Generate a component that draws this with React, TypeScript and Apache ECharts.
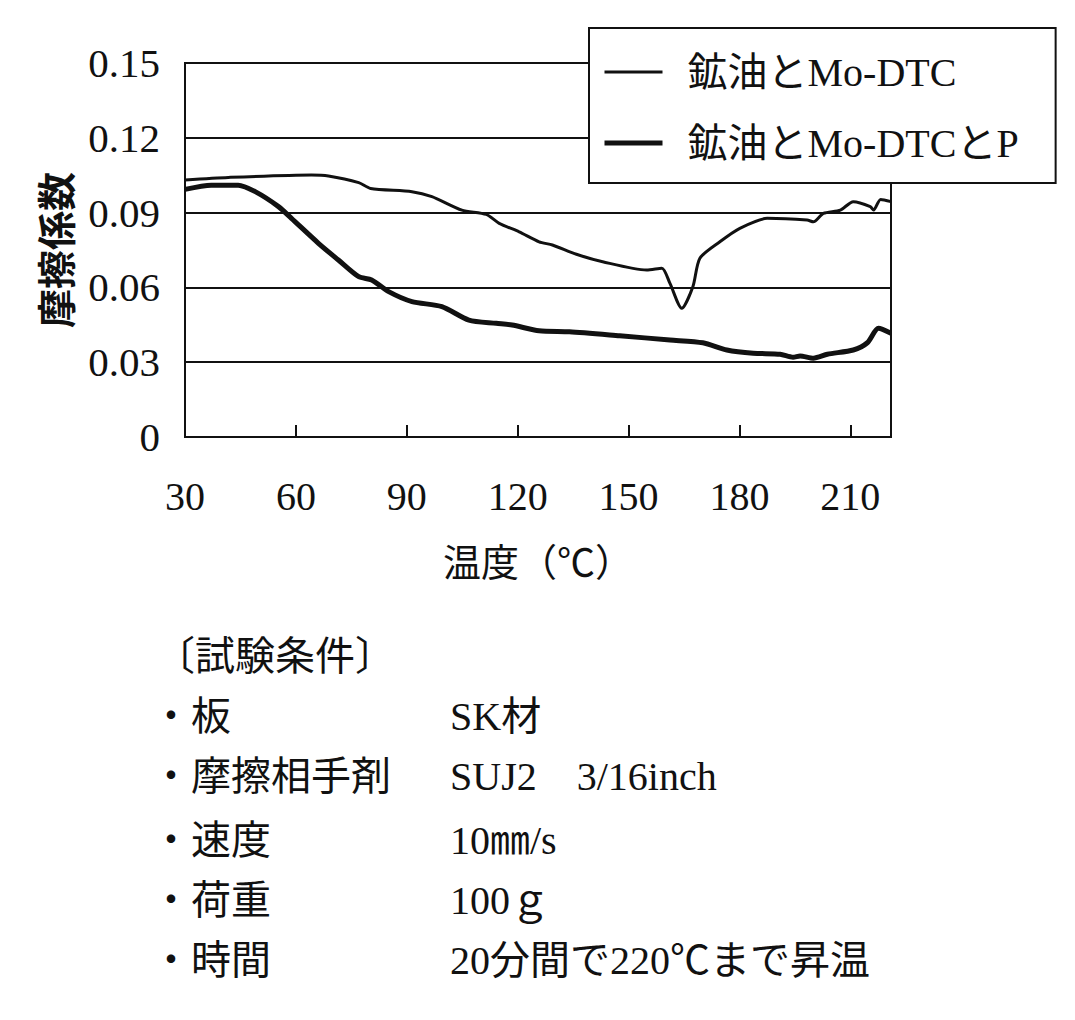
import React, { useEffect, useRef } from "react";
import * as echarts from "echarts";

const SERIF = "'Liberation Serif', 'Noto Sans CJK JP', serif";
const SANS = "'Noto Sans CJK JP', sans-serif";

const seriesNames = ["鉱油とMo-DTC", "鉱油とMo-DTCとP"];
const seriesWidths = [3, 5];

// 鉱油とMo-DTC (thin line)
const tempsA = [30, 41.7, 64.2, 68.8, 77, 80.2, 91.4, 96.8, 104.9, 111.5, 115, 120.4, 125.8, 129.4, 135.9, 143, 154.9, 159, 161.2, 164.4, 167.4, 169.3, 174.7, 180.1, 187.5, 198.3, 200, 202.7, 207.3, 210.8, 215.4, 216.3, 218.2, 221];
const cofA = [0.1031, 0.1041, 0.1051, 0.1047, 0.102, 0.0997, 0.0984, 0.0964, 0.091, 0.0893, 0.0857, 0.0823, 0.0783, 0.077, 0.0733, 0.0703, 0.067, 0.0677, 0.0616, 0.0516, 0.0603, 0.0717, 0.0783, 0.0837, 0.0877, 0.087, 0.0863, 0.0897, 0.091, 0.0944, 0.0924, 0.091, 0.0953, 0.0944];

// 鉱油とMo-DTCとP (thick line)
const tempsB = [30, 37.1, 44.4, 49, 55.3, 58.8, 66.1, 71.5, 77, 80.5, 85.1, 91.4, 99.5, 106.8, 114.2, 118.5, 125.8, 134, 147.6, 161.2, 170.1, 176.6, 183.7, 191, 194.5, 196.4, 200, 203.8, 210.8, 214.6, 217.6, 221];
const cofB = [0.0993, 0.101, 0.101, 0.0984, 0.0924, 0.0877, 0.0777, 0.071, 0.0643, 0.063, 0.0583, 0.0543, 0.0523, 0.0469, 0.0456, 0.0449, 0.0426, 0.0422, 0.0406, 0.0389, 0.0378, 0.0349, 0.0336, 0.0332, 0.032, 0.0325, 0.0316, 0.0332, 0.0349, 0.0378, 0.0436, 0.0416];

const xMin = 30;
const xMax = 221;
const xInterval = 30;
const yMin = 0;
const yMax = 0.15;
const yInterval = 0.03;

const xAxisTitle = "温度（℃）";
const yAxisTitle = "摩擦係数";

const conditionsTitle = "〔試験条件〕";
const conditionLabels = ["・板", "・摩擦相手剤", "・速度", "・荷重", "・時間"];
const conditionValues = ["SK材", "SUJ2　3/16inch", "10㎜/s", "100ｇ", "20分間で220℃まで昇温"];

export default function App() {
  const ref = useRef<HTMLDivElement>(null);

  useEffect(() => {
    if (!ref.current) return;
    const chart = echarts.init(ref.current, undefined, { renderer: "svg" });

    const pairs = (xs: number[], ys: number[]) => xs.map((x, i) => [x, ys[i]]);

    const rowYs = [718, 778, 842, 902, 962];
    const graphics: any[] = [
      {
        type: "text",
        left: 155,
        top: 658 - 22,
        style: { text: conditionsTitle, font: `40px ${SERIF}`, fill: "#111" },
      },
    ];
    conditionLabels.forEach((l, i) => {
      graphics.push({
        type: "text",
        left: 151,
        top: rowYs[i] - 22,
        style: { text: l, font: `40px ${SERIF}`, fill: "#111" },
      });
      graphics.push({
        type: "text",
        left: 450,
        top: rowYs[i] - 22,
        style: { text: conditionValues[i], font: `40px ${SERIF}`, fill: "#111" },
      });
    });

    chart.setOption({
      animation: false,
      backgroundColor: "#fff",
      grid: {
        left: 185,
        right: 1075 - 891,
        top: 63,
        bottom: 1020 - 437,
        show: true,
        borderColor: "#111",
        borderWidth: 2,
        backgroundColor: "transparent",
      },
      legend: {
        orient: "vertical",
        left: 589,
        top: 28,
        data: seriesNames.map((n, i) => ({
          name: n,
          lineStyle: { width: seriesWidths[i], color: "#111" },
        })),
        itemWidth: 58,
        itemHeight: 3,
        itemGap: 31,
        padding: [24, 37, 20, 13],
        backgroundColor: "#fff",
        borderColor: "#111",
        borderWidth: 2,
        borderRadius: 0,
        itemStyle: { opacity: 0 },
        textStyle: {
          fontFamily: SERIF,
          fontSize: 40,
          color: "#111",
          padding: [0, 0, 0, 20],
        },
      },
      xAxis: {
        type: "value",
        min: xMin,
        max: xMax,
        interval: xInterval,
        name: xAxisTitle,
        nameLocation: "middle",
        nameGap: 103,
        nameTextStyle: { fontFamily: SANS, fontSize: 38, color: "#111" },
        axisLine: { show: true, lineStyle: { color: "#111", width: 2 } },
        axisTick: { show: true, inside: true, length: 12, lineStyle: { color: "#111", width: 2 } },
        axisLabel: {
          margin: 39,
          fontFamily: SERIF,
          fontSize: 40,
          color: "#111",
          showMaxLabel: false,
        },
        splitLine: { show: false },
      },
      yAxis: {
        type: "value",
        min: yMin,
        max: yMax,
        interval: yInterval,
        name: yAxisTitle,
        nameLocation: "middle",
        nameRotate: 90,
        nameGap: 112,
        nameTextStyle: { fontFamily: SANS, fontSize: 39, fontWeight: "bold", color: "#111" },
        axisLine: { show: true, lineStyle: { color: "#111", width: 2 } },
        axisTick: { show: false },
        axisLabel: {
          margin: 25,
          fontFamily: SERIF,
          fontSize: 41,
          color: "#111",
          formatter: (v: number) => (v === 0 ? "0" : v.toFixed(2)),
        },
        splitLine: { show: true, lineStyle: { color: "#111", width: 2 } },
      },
      series: [
        {
          name: seriesNames[0],
          type: "line",
          data: pairs(tempsA, cofA),
          symbol: "none",
          smooth: 0.25,
          lineStyle: { color: "#111", width: seriesWidths[0] },
          itemStyle: { color: "#111" },
        },
        {
          name: seriesNames[1],
          type: "line",
          data: pairs(tempsB, cofB),
          symbol: "none",
          smooth: 0.25,
          lineStyle: { color: "#111", width: seriesWidths[1] },
          itemStyle: { color: "#111" },
        },
      ],
      graphic: graphics,
    });

    return () => chart.dispose();
  }, []);

  return (
    <div
      ref={ref}
      style={{ position: "fixed", left: 0, top: 0, width: 1075, height: 1020, background: "#fff" }}
    />
  );
}
